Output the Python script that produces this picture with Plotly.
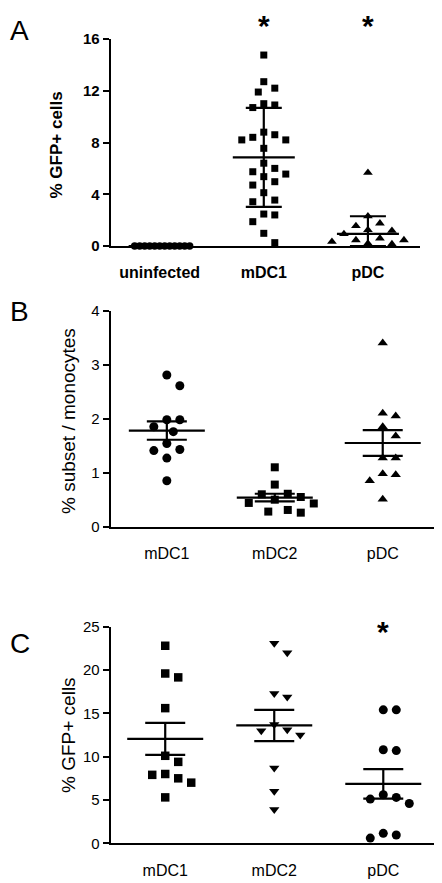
import plotly.graph_objects as go

# ---------------- data ----------------
a_categories = ["uninfected", "mDC1", "pDC"]
a_uninfected = [0, 0, 0, 0, 0, 0, 0, 0, 0, 0, 0, 0]
a_mdc1 = [14.76, 12.7, 11.9, 12.2, 10.9, 11.0, 10.7, 8.6, 8.8, 8.2, 8.4, 8.2, 7.55, 6.4,
          6.0, 5.56, 5.74, 5.36, 4.97, 4.71, 4.12, 3.55, 3.42, 2.4, 2.47, 1.88, 0.98, 0.26]
a_pdc = [5.67, 2.3, 1.75, 1.55, 1.24, 1.18, 0.93, 0.59, 0.46, 0.46, 0.15, 0.33, 0.2]
a_means = [0.0, 6.85, 0.93]
a_errors = [0.0, 3.83, 1.37]
a_yticks = [0, 4, 8, 12, 16]

b_categories = ["mDC1", "mDC2", "pDC"]
b_mdc1 = [2.81, 2.61, 1.98, 1.98, 1.85, 1.76, 1.54, 1.41, 1.43, 1.27, 0.85]
b_mdc2 = [1.10, 0.78, 0.61, 0.60, 0.55, 0.50, 0.44, 0.43, 0.31, 0.26, 0.28]
b_pdc = [3.40, 2.05, 2.10, 1.85, 1.68, 1.27, 1.27, 0.96, 0.98, 0.85, 0.51]
b_means = [1.78, 0.54, 1.55]
b_errors = [0.17, 0.07, 0.24]
b_yticks = [0, 1, 2, 3, 4]

c_categories = ["mDC1", "mDC2", "pDC"]
c_mdc1 = [22.8, 19.6, 19.15, 15.6, 10.1, 9.4, 8.0, 7.9, 7.5, 7.0, 5.3]
c_mdc2 = [23.1, 22.0, 16.9, 17.3, 13.7, 13.0, 12.5, 13.1, 8.7, 6.0, 3.9]
c_pdc = [15.4, 15.4, 10.7, 10.8, 5.6, 5.1, 4.6, 5.3, 1.15, 0.6, 0.96]
c_means = [12.05, 13.6, 6.85]
c_errors = [1.85, 1.8, 1.7]
c_yticks = [0, 5, 10, 15, 20, 25]

# ---------------- layout geometry ----------------
# the page body has an 8px default margin, so the figure is offset by (8, 8)
OFF = 8
W, H = 434, 875
FONT = "Arial, 'Liberation Sans', sans-serif"


def pxx(px):
    return (px - OFF) / W


def pxy(py):
    return 1 - (py - OFF) / H


panels = {
    "A": dict(px_x=(110.7, 420.0), px_y=(39.0, 246.0), xr=(-0.47, 2.5), yr=(0, 16)),
    "B": dict(px_x=(110.7, 436.7), px_y=(310.7, 526.7), xr=(-0.52, 2.5), yr=(0, 4)),
    "C": dict(px_x=(110.7, 436.7), px_y=(626.7, 843.3), xr=(-0.50, 2.49), yr=(0, 25)),
}


def px_scale(p):
    sx = (p["px_x"][1] - p["px_x"][0]) / (p["xr"][1] - p["xr"][0])
    sy = (p["px_y"][1] - p["px_y"][0]) / (p["yr"][1] - p["yr"][0])
    return sx, sy


def swarm(values, ypx, dmin, step):
    n = len(values)
    order = sorted(range(n), key=lambda i: -values[i])
    placed = []
    offs = [0.0] * n
    for i in order:
        y = values[i] * ypx
        k = 0
        while True:
            cands = [0.0] if k == 0 else [k * step, -k * step]
            ok = None
            for c in cands:
                if all((c - px) ** 2 + (y - py) ** 2 >= dmin ** 2 for px, py in placed):
                    ok = c
                    break
            if ok is not None:
                offs[i] = ok
                placed.append((ok, y))
                break
            k += 1
    return offs


fig = go.Figure()

axis_names = {"A": ("x", "y"), "B": ("x2", "y2"), "C": ("x3", "y3")}


def add_group(panel, idx, values, symbol, size, dmin, step):
    p = panels[panel]
    sx, sy = px_scale(p)
    offs = swarm(values, sy, dmin, step)
    xs = [idx + o / sx for o in offs]
    xa, ya = axis_names[panel]
    fig.add_trace(go.Scatter(
        x=xs, y=values, mode="markers", xaxis=xa, yaxis=ya,
        marker=dict(symbol=symbol, size=size, color="black", line=dict(width=0)),
        cliponaxis=False, showlegend=False, hoverinfo="y"))


def add_stats(panel, means, errors, mean_halfwidth_px, cap_px):
    p = panels[panel]
    sx, sy = px_scale(p)
    xa, ya = axis_names[panel]
    minus = [min(e, m) for m, e in zip(means, errors)]
    fig.add_trace(go.Scatter(
        x=list(range(len(means))), y=means, mode="markers", xaxis=xa, yaxis=ya,
        marker=dict(size=1, color="rgba(0,0,0,0)"),
        error_y=dict(type="data", symmetric=False, array=errors, arrayminus=minus,
                     color="black", thickness=2.2, width=cap_px),
        error_x=dict(type="constant", value=mean_halfwidth_px / sx,
                     color="black", thickness=2.2, width=0),
        cliponaxis=False, showlegend=False, hoverinfo="skip"))


# Panel A
add_group("A", 0, a_uninfected, "circle", 7.5, 5.0, 2.5)
add_group("A", 1, a_mdc1, "square", 7, 11.0, 5.5)
add_group("A", 2, a_pdc, "triangle-up", 8.5, 12.0, 6.0)
add_stats("A", a_means, a_errors, 31, 18)

# Panel B
add_group("B", 0, b_mdc1, "circle", 9, 13.0, 6.5)
add_group("B", 1, b_mdc2, "square", 8, 13.0, 6.5)
add_group("B", 2, b_pdc, "triangle-up", 9, 13.0, 6.5)
add_stats("B", b_means, b_errors, 38, 20)

# Panel C
add_group("C", 0, c_mdc1, "square", 8.5, 13.0, 6.5)
add_group("C", 1, c_mdc2, "triangle-down", 9, 13.0, 6.5)
add_group("C", 2, c_pdc, "circle", 9, 13.0, 6.5)
add_stats("C", c_means, c_errors, 38, 20)


def xdom(p):
    return [pxx(p["px_x"][0]), pxx(p["px_x"][1])]


def ydom(p):
    return [pxy(p["px_y"][1]), pxy(p["px_y"][0])]


def xaxis(p, cats, bold, anchor):
    f = dict(family=FONT, size=16, color="black")
    text = [("<b>%s</b>" % c) if bold else c for c in cats]
    return dict(domain=xdom(p), range=list(p["xr"]), tickvals=[0, 1, 2], ticktext=text,
                showline=True, linecolor="black", linewidth=2, ticks="outside",
                ticklen=11, tickcolor="rgba(0,0,0,0)", tickfont=f, automargin=False,
                showgrid=False, zeroline=False, fixedrange=True, anchor=anchor)


def yaxis(p, ticks, bold, anchor):
    f = dict(family=FONT, size=15, color="black")
    text = [("<b>%s</b>" % t) if bold else str(t) for t in ticks]
    return dict(domain=ydom(p), range=list(p["yr"]), tickvals=ticks, ticktext=text,
                showline=True, linecolor="black", linewidth=2, ticks="outside",
                ticklen=6, tickwidth=2, tickcolor="black", tickfont=f, automargin=False,
                showgrid=False, zeroline=False, fixedrange=True, anchor=anchor)


fig.update_layout(
    template="none",
    width=W, height=H, margin=dict(l=0, r=0, t=0, b=0, autoexpand=False),
    paper_bgcolor="white", plot_bgcolor="white",
    font=dict(family=FONT, color="black"),
    xaxis=xaxis(panels["A"], a_categories, True, "y"),
    yaxis=yaxis(panels["A"], a_yticks, True, "x"),
    xaxis2=xaxis(panels["B"], b_categories, False, "y2"),
    yaxis2=yaxis(panels["B"], b_yticks, False, "x2"),
    xaxis3=xaxis(panels["C"], c_categories, False, "y3"),
    yaxis3=yaxis(panels["C"], c_yticks, False, "x3"),
)

annotations = [
    # panel letters (left-anchored just inside the figure edge)
    dict(text="A", x=pxx(9), y=pxy(31), font=dict(size=28), xanchor="left"),
    dict(text="B", x=pxx(9), y=pxy(311), font=dict(size=28), xanchor="left"),
    dict(text="C", x=pxx(9), y=pxy(643), font=dict(size=28), xanchor="left"),
    # axis titles
    dict(text="<b>% GFP+ cells</b>", x=pxx(56), y=pxy(145.5), textangle=-90, font=dict(size=17)),
    dict(text="% subset / monocytes", x=pxx(68), y=pxy(421), textangle=-90, font=dict(size=19)),
    dict(text="% GFP+ cells", x=pxx(68), y=pxy(735), textangle=-90, font=dict(size=19)),
]
for a in annotations:
    a.setdefault("xanchor", "center")
    a.update(xref="paper", yref="paper", yanchor="middle", showarrow=False, borderpad=0)
    a["font"].update(family=FONT, color="black")
    fig.add_annotation(**a)

# significance asterisks (panel A ones hang from the top edge of the figure)
for xa, idx in [("x", 1), ("x", 2)]:
    fig.add_annotation(text="<b>*</b>", xref=xa, x=idx, yref="paper", y=1.0,
                       xanchor="center", yanchor="top", showarrow=False, borderpad=0,
                       font=dict(family=FONT, size=30, color="black"))
fig.add_annotation(text="<b>*</b>", xref="x3", x=2, yref="paper", y=pxy(631),
                   xanchor="center", yanchor="middle", showarrow=False, borderpad=0,
                   font=dict(family=FONT, size=30, color="black"))

fig.write_html("out.html")
